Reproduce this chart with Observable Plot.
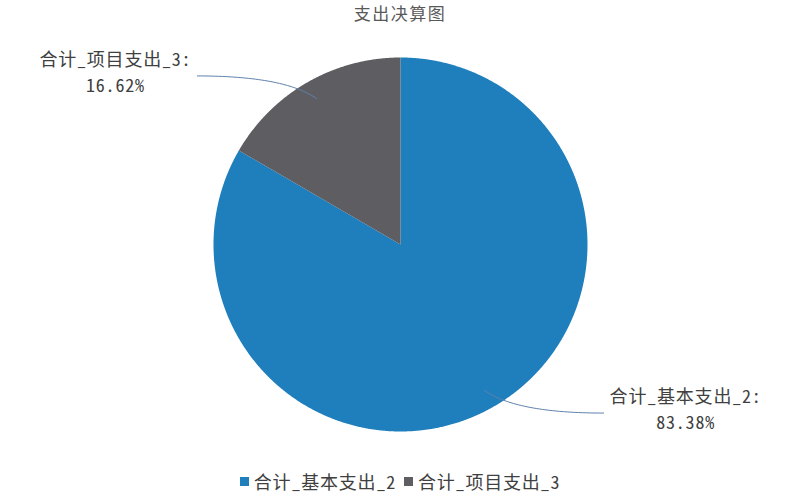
<!DOCTYPE html>
<html><head><meta charset="utf-8">
<script src="https://cdn.jsdelivr.net/npm/d3@7"></script>
<script src="https://cdn.jsdelivr.net/npm/@observablehq/plot@0.6"></script>
<style>
  body{margin:0;background:#fff;width:800px;height:500px;overflow:hidden;
    font-family:"Noto Sans Mono CJK SC","Noto Sans CJK SC",sans-serif;}
  #title{height:24px;line-height:25px;text-align:center;font-size:17px;letter-spacing:1.5px;color:#595959;}
  #chart{height:450px;}
  #legend{height:20px;line-height:20px;margin-top:-3px;display:flex;justify-content:center;align-items:center;font-size:18px;letter-spacing:0.8px;color:#404040;}
  .sw{display:inline-block;width:9px;height:9px;margin-right:5px;}
  .it{display:flex;align-items:center;margin:0 4px;}
</style></head>
<body>
<div id="title">支出决算图</div>
<div id="chart"></div>
<div id="legend"></div>
<script>
const title = "支出决算图";
const names = ["合计_基本支出_2", "合计_项目支出_3"];
const values = [83.38, 16.62];
const colors = ["#1f7fbd", "#5e5d62"];

const pie = d3.pie().sort(null).value(d => d.value);
const arcs = pie(names.map((n, i) => ({name: n, value: values[i]})));

// slice polygons in unit-circle data space
const slicePts = [];
for (const a of arcs) {
  slicePts.push({name: a.data.name, x: 0, y: 0});
  const steps = Math.max(2, Math.ceil((a.endAngle - a.startAngle) / 0.005));
  for (let k = 0; k <= steps; k++) {
    const t = a.startAngle + (a.endAngle - a.startAngle) * k / steps;
    slicePts.push({name: a.data.name, x: Math.sin(t), y: Math.cos(t)});
  }
}

// leader lines and label anchors derived from each slice's mid angle
const leaderPts = [];
const labels = [];
for (const a of arcs) {
  const m = (a.startAngle + a.endAngle) / 2;
  const s = Math.sign(Math.sin(m));
  const p0 = {x: 0.9 * Math.sin(m), y: 0.9 * Math.cos(m)};
  const end = {x: s * 1.086, y: 1.04 * Math.cos(m)};
  const c = {x: p0.x + s * 0.17, y: end.y};
  for (let k = 0; k <= 40; k++) {
    const t = k / 40, u = 1 - t;
    leaderPts.push({name: a.data.name,
      x: u*u*p0.x + 2*u*t*c.x + t*t*end.x,
      y: u*u*p0.y + 2*u*t*c.y + t*t*end.y});
  }
  labels.push({name: a.data.name, x: end.x, y: end.y, side: s,
    text: a.data.name + ":\n" + a.data.value.toFixed(2) + "%"});
}

const chart = Plot.plot({
  width: 800, height: 450,
  margin: 0,
  x: {domain: [-1, 1], range: [213, 587], axis: null},
  y: {domain: [-1, 1], range: [407, 33], axis: null},
  color: {domain: names, range: colors},
  style: {fontFamily: '"Noto Sans Mono CJK SC","Noto Sans CJK SC",sans-serif', background: "white"},
  marks: [
    Plot.line(slicePts, {x: "x", y: "y", z: "name", fill: "name", stroke: null, curve: "linear"}),
    Plot.line(leaderPts, {x: "x", y: "y", z: "name", stroke: "#5f82ad", strokeWidth: 1}),
    Plot.text(labels.filter(d => d.side < 0), {x: "x", y: "y", text: "text", dx: -82, dy: -5,
      textAnchor: "middle", lineHeight: 1.45, fontSize: 18, fill: "#404040"}),
    Plot.text(labels.filter(d => d.side > 0), {x: "x", y: "y", text: "text", dx: 82, dy: -5,
      textAnchor: "middle", lineHeight: 1.45, fontSize: 18, fill: "#404040"})
  ]
});
chart.querySelectorAll("text").forEach(t => t.setAttribute("letter-spacing", "0.8"));
document.getElementById("chart").appendChild(chart);

const leg = document.getElementById("legend");
names.forEach((n, i) => {
  const it = document.createElement("span");
  it.className = "it";
  const sw = document.createElement("span");
  sw.className = "sw"; sw.style.background = colors[i];
  it.appendChild(sw);
  it.appendChild(document.createTextNode(n));
  leg.appendChild(it);
});
</script>
</body></html>
